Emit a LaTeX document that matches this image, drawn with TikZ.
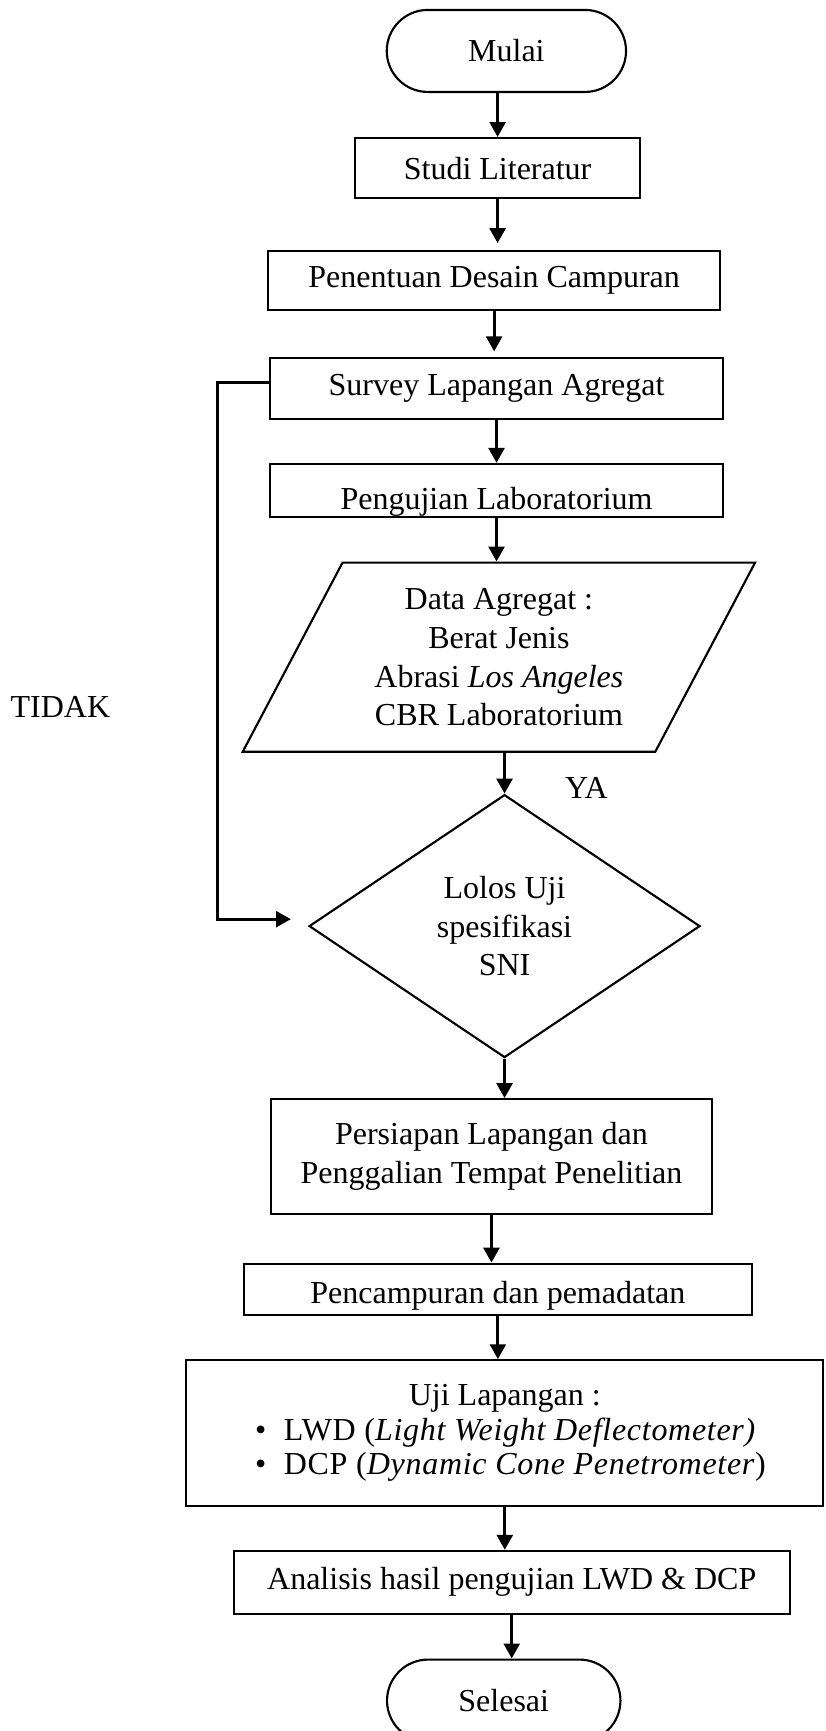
\documentclass[tikz,border=0pt]{standalone}
\usepackage{fontspec}
\setmainfont{Liberation Serif}
\usetikzlibrary{positioning,shapes,arrows.meta}
\tikzstyle{startstop} = [rounded rectangle, text centered, draw=black, line width=0.8pt, minimum height=30.75pt]
\tikzstyle{io} = [trapezium, trapezium left angle=61.4, trapezium right angle=118.6, trapezium stretches=true, text centered, align=center, draw=black, line width=0.8pt]
\tikzstyle{process} = [rectangle, text centered, align=center, draw=black, line width=0.8pt]
\tikzstyle{decision} = [diamond, aspect=1.49, text centered, align=center, draw=black, line width=0.8pt, inner sep=0pt]
\tikzstyle{arrow} = [-{Triangle[length=5.6pt,width=5.9pt]}, line width=1.2pt]
\newcommand{\bulletline}[1]% #1 = item text
{\makebox[187.3pt][l]{\textbullet\hspace{6.6pt}{\addfontfeature{LetterSpace=2.2}#1}}}

\begin{document}
\begin{tikzpicture}[font=\fontsize{12}{14.6}\selectfont]
		\useasboundingbox (0,0) rectangle (309.375pt,-649.125pt);
		\node (mulai) [startstop,minimum width=96.4pt] at (189.9pt,-19.1pt) {Mulai};
		\node (studi-literatur) [process,minimum width=106.9pt,minimum height=22.6pt,below=16.5pt of mulai,xshift=-3.3pt] {Studi Literatur};
		\node (desain-campuran) [process,minimum width=169.5pt,minimum height=22.1pt,below=19pt of studi-literatur,xshift=-1.3pt] {Penentuan Desain Campuran};
		\node (survey) [process,minimum width=169.9pt,minimum height=22.8pt,below=17.1pt of desain-campuran,xshift=0.9pt] {Survey Lapangan Agregat};
		\node (pengujian-lab) [process,minimum width=169.9pt,inner ysep=0pt,text height=16.9pt,text depth=3pt,below=16.2pt of survey] {Pengujian Laboratorium};
		\node (data-agregat) [io,minimum width=192.2pt,minimum height=70.9pt,below=16.3pt of pengujian-lab,xshift=0.9pt] {Data Agregat :\\Berat Jenis\\Abrasi \textit{Los Angeles}\\CBR Laboratorium};
		\node (lolos-uji) [decision,minimum width=146.6pt,minimum height=98.6pt,below=15.3pt of data-agregat,xshift=2.1pt] {Lolos Uji\\spesifikasi\\SNI};
		\node (persiapan) [process,minimum width=165.6pt,minimum height=42.9pt,below=14.8pt of lolos-uji,xshift=-4.9pt] {Persiapan Lapangan dan\\Penggalian Tempat Penelitian};
		\node (pencampuran) [process,minimum width=190.5pt,inner ysep=0pt,text height=15pt,text depth=4.1pt,below=18pt of persiapan,xshift=2.4pt] {Pencampuran dan pemadatan};
		\node (uji-lapangan) [process,minimum width=238.9pt,minimum height=54.5pt,below=16.3pt of pencampuran,xshift=2.6pt,font=\fontsize{12}{13}\selectfont] {Uji Lapangan :\\\bulletline{LWD (\textit{Light Weight Deflectometer)}}\\\bulletline{DCP (\textit{Dynamic Cone Penetrometer})}};
		\node (analisis) [process,minimum width=208.5pt,minimum height=23.5pt,below=16.2pt of uji-lapangan,xshift=2.6pt] {Analisis hasil pengujian LWD \& DCP};
		\node (selesai) [startstop,minimum width=94.2pt,below=16.45pt of analisis,xshift=-3pt] {Selesai};
		
		\draw [arrow] (studi-literatur.north |- mulai.south) -- (studi-literatur.north);
		\draw [arrow,shorten >=2.6pt] (studi-literatur.south) -- (studi-literatur.south |- desain-campuran.north);
		\draw [arrow,shorten >=2pt] (desain-campuran.south) -- (desain-campuran.south |- survey.north);
		\draw [arrow] (survey.south) -- (survey.south |- pengujian-lab.north);
		\draw [arrow] (pengujian-lab.south) -- (pengujian-lab.south |- data-agregat.north);
		\draw [arrow] (lolos-uji.north |- data-agregat.south) -- coordinate[midway](m2) (lolos-uji.north);
		\draw [arrow] (lolos-uji.south) -- (lolos-uji.south |- persiapan.north);
		\draw [arrow] (persiapan.south) -- (persiapan.south |- pencampuran.north);
		\draw [arrow] (pencampuran.south) -- (pencampuran.south |- uji-lapangan.north);
		\draw [arrow] (uji-lapangan.south) -- (uji-lapangan.south |- analisis.north);
		\draw [arrow] (analisis.south) -- (analisis.south |- selesai.north);
		
		\draw [arrow,shorten >=6.4pt] ([yshift=2pt]survey.west) -- +(-19.3pt,0) |- coordinate[pos=0.302](m1) ([yshift=2.6pt]lolos-uji.west);
		
		\node [left=36.7pt of m1] {TIDAK};
		\node [right=19.2pt of m2,yshift=-5.6pt] {YA};
	
	\end{tikzpicture}
\end{document}
